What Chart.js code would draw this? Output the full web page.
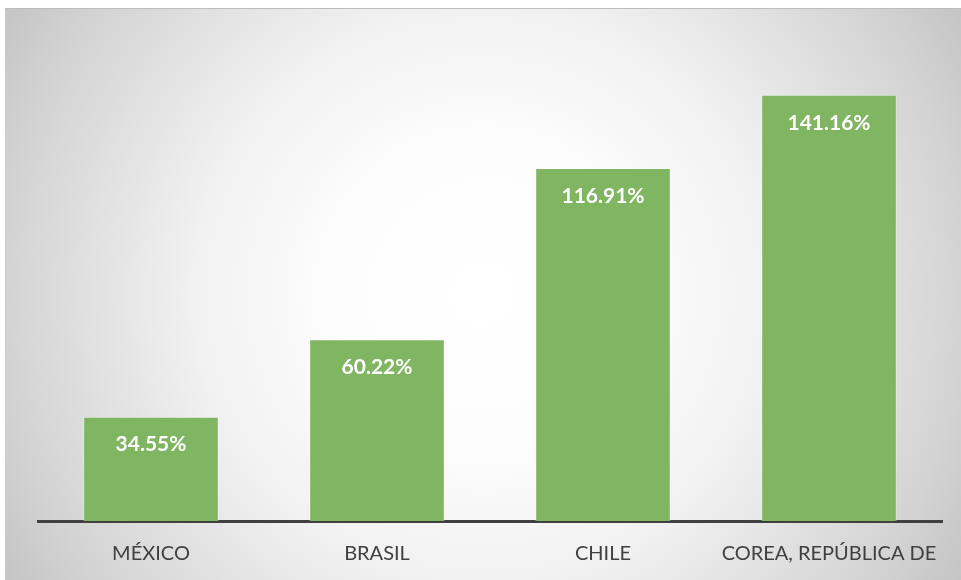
<!DOCTYPE html>
<html>
<head>
<meta charset="utf-8">
<script src="https://cdn.jsdelivr.net/npm/chart.js@4"></script>
<style>
  html, body { margin: 0; padding: 0; background: #ffffff; }
  #wrap {
    position: absolute; left: 5px; top: 8px; width: 955px; height: 571px;
    border-top: 1px solid #bdbdbd; border-left: 1px solid #cccccc;
    background: radial-gradient(circle 560px at 50% 50%, #ffffff 0px, #fdfdfd 150px, #f1f1f1 290px, #d3d3d3 480px, #c4c4c4 560px);
  }
  #chart { display: block; }
</style>
</head>
<body>
<div id="wrap"><canvas id="chart" width="955" height="571"></canvas></div>
<script>
// datos del gráfico
const categories = ['MÉXICO', 'BRASIL', 'CHILE', 'COREA, REPÚBLICA DE'];
const values = [34.55, 60.22, 116.91, 141.16];
const yMax = 159;

// etiquetas blancas dentro de cada barra
const barLabels = {
    id: 'barLabels',
    afterDatasetsDraw(chart) {
        const ctx = chart.ctx;
        const meta = chart.getDatasetMeta(0);
        ctx.save();
        ctx.fillStyle = '#ffffff';
        ctx.font = 'bold 21px Lato';
        ctx.textAlign = 'center';
        ctx.textBaseline = 'middle';
        meta.data.forEach((bar, i) => {
            ctx.fillText(values[i].toFixed(2) + '%', bar.x, bar.y + 28);
        });
        ctx.restore();
    }
};

new Chart(document.getElementById('chart').getContext('2d'), {
    type: 'bar',
    data: {
        labels: categories,
        datasets: [{
            data: values,
            backgroundColor: '#80b562',
            borderColor: 'rgba(255,255,255,0.35)',
            borderWidth: 1,
            categoryPercentage: 1,
            barPercentage: 0.6
        }]
    },
    options: {
        responsive: false,
        animation: false,
        layout: { padding: { left: 32, right: 19, top: 32, bottom: 0 } },
        plugins: { legend: { display: false }, tooltip: { enabled: false } },
        scales: {
            x: {
                grid: { display: false, drawTicks: false },
                border: { display: true, color: '#404040', width: 3 },
                ticks: { color: '#404040', font: { family: 'Lato', size: 20 }, padding: 21, maxRotation: 0 },
                afterFit: s => { s.height = 59; }
            },
            y: { display: false, min: 0, max: yMax }
        }
    },
    plugins: [barLabels]
});
</script>
</body>
</html>
